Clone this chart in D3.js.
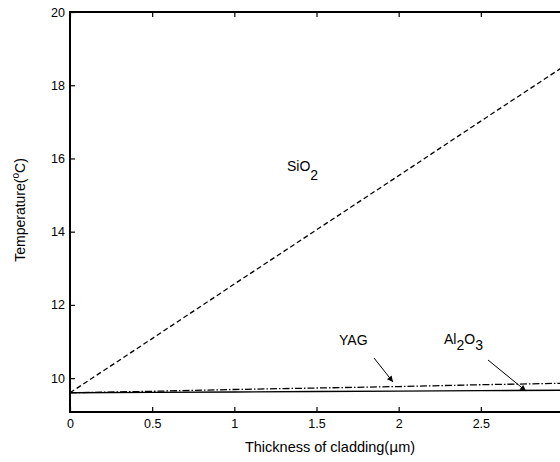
<!DOCTYPE html>
<html>
<head>
<meta charset="utf-8">
<script src="https://cdn.jsdelivr.net/npm/d3@7"></script>
<style>
  body { margin: 0; background: #fff; }
  svg { display: block; font-family: "Liberation Sans", Arial, sans-serif; }
</style>
</head>
<body>
<div class="container"></div>
<script>
// data
const thickness = [0, 0.5, 1, 1.5, 2, 2.5, 3];
const sio2  = [9.6, 11.08, 12.57, 14.05, 15.53, 17.02, 18.5];
const yag   = [9.6, 9.64, 9.69, 9.73, 9.77, 9.82, 9.86];
const al2o3 = [9.6, 9.61, 9.62, 9.635, 9.645, 9.66, 9.67];
const xTicks = [0, 0.5, 1, 1.5, 2, 2.5, 3];
const yTicks = [10, 12, 14, 16, 18, 20];

const W = 560, H = 462;
const mLeft = 70, mRight = 563, mTop = 12, mBottom = 412;

const svg = d3.select('.container')
  .append('svg')
  .attr('width', W)
  .attr('height', H);

const x = d3.scaleLinear().domain([0, 3]).range([mLeft, mRight]);
const y = d3.scaleLinear().domain([9.075, 20]).range([mBottom, mTop]);

// axes, ticks inward like matlab
const xAxis = d3.axisBottom(x).tickValues(xTicks).tickSizeInner(-5).tickSizeOuter(0).tickPadding(7)
  .tickFormat(d => d3.format('')(d));
const yAxis = d3.axisLeft(y).tickValues(yTicks).tickSizeInner(-5).tickSizeOuter(0).tickPadding(5);

const gx = svg.append('g').attr('transform', `translate(0,${mBottom})`).call(xAxis);
const gy = svg.append('g').attr('transform', `translate(${mLeft},0)`).call(yAxis);
// top ticks
const gt = svg.append('g').attr('transform', `translate(0,${mTop})`)
  .call(d3.axisTop(x).tickValues(xTicks).tickSizeInner(-5).tickSizeOuter(0).tickFormat(''));

[gx, gy, gt].forEach(g => {
  g.select('.domain').remove();
  g.selectAll('line').attr('stroke', '#000').attr('stroke-width', 1.2);
  g.selectAll('text').attr('font-size', 12.5).attr('fill', '#000')
    .attr('font-family', '"Liberation Sans", Arial, sans-serif');
});

// box
svg.append('rect')
  .attr('x', mLeft).attr('y', mTop)
  .attr('width', mRight - mLeft).attr('height', mBottom - mTop)
  .attr('fill', 'none').attr('stroke', '#000').attr('stroke-width', 2);

// lines
const line = vals => d3.line()
  .x((d, i) => x(thickness[i]))
  .y(d => y(d))(vals);

svg.append('path').attr('d', line(sio2))
  .attr('fill', 'none').attr('stroke', '#000').attr('stroke-width', 1.3)
  .attr('stroke-dasharray', '5,3');
svg.append('path').attr('d', line(yag))
  .attr('fill', 'none').attr('stroke', '#000').attr('stroke-width', 1.3)
  .attr('stroke-dasharray', '7,2,1.5,2');
svg.append('path').attr('d', line(al2o3))
  .attr('fill', 'none').attr('stroke', '#000').attr('stroke-width', 1.4);

// annotations
function chem(px, py, parts) {
  const txt = svg.append('text').attr('x', px).attr('y', py)
    .attr('font-size', 14).attr('fill', '#000');
  parts.forEach(p => {
    txt.append('tspan').text(p[0]).attr('dy', p[1]);
  });
  return txt;
}
chem(287, 171, [['SiO', 0], ['2', 9]]);
chem(339, 345, [['YAG', 0]]);
chem(444, 344, [['Al', 0], ['2', 6], ['O', -6], ['3', 6]]);

svg.append('defs').append('marker')
  .attr('id', 'ah').attr('viewBox', '0 0 10 10')
  .attr('refX', 10).attr('refY', 5)
  .attr('markerWidth', 10).attr('markerHeight', 6)
  .attr('markerUnits', 'userSpaceOnUse')
  .attr('orient', 'auto')
  .append('path').attr('d', 'M0,0L10,5L0,10z').attr('fill', '#000');

const arrows = [[374, 358, 393, 382], [488, 360, 526, 391]];
svg.selectAll('.arr').data(arrows).join('line')
  .attr('x1', d => d[0]).attr('y1', d => d[1])
  .attr('x2', d => d[2]).attr('y2', d => d[3])
  .attr('stroke', '#000').attr('stroke-width', 1)
  .attr('marker-end', 'url(#ah)');

// axis titles
const xt = svg.append('text').attr('x', 330).attr('y', 452)
  .attr('text-anchor', 'middle').attr('font-size', 14.5).attr('fill', '#000');
xt.append('tspan').text('Thickness of cladding(');
xt.append('tspan').text('μ').attr('font-family', '"DejaVu Sans", sans-serif').attr('font-size', 14);
xt.append('tspan').text('m)');

const yt = svg.append('text')
  .attr('transform', 'translate(25,210) rotate(-90)')
  .attr('text-anchor', 'middle').attr('font-size', 14).attr('fill', '#000');
yt.append('tspan').text('Temperature(');
yt.append('tspan').text('o').attr('font-size', 10).attr('dy', -6);
yt.append('tspan').text('C)').attr('dy', 6);
</script>
</body>
</html>
